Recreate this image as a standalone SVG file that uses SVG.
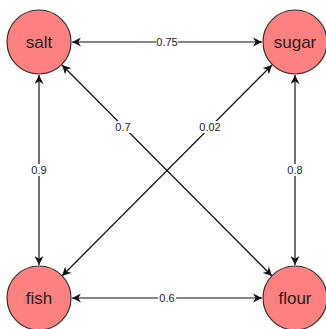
<svg xmlns="http://www.w3.org/2000/svg" width="326" height="329" viewBox="0 0 326 329">
<style>
.node circle{fill:#ff8080;stroke:#333;stroke-width:1.2}
.node text{font-family:Arial,"Liberation Sans",sans-serif;font-size:17px;fill:#222;text-anchor:middle;dominant-baseline:central}
.edges line{stroke:#111;stroke-width:1.2;marker-start:url(#a);marker-end:url(#a)}
.lbl rect{fill:#fff}
.lbl text{font-family:Arial,"Liberation Sans",sans-serif;font-size:11px;fill:#222;text-anchor:middle;dominant-baseline:central}
</style>
<defs>
<marker id="a" viewBox="0 0 10 10" refX="10" refY="5" markerWidth="9" markerHeight="9" markerUnits="userSpaceOnUse" orient="auto-start-reverse">
<path d="M0,0 L10,5 L0,10 L3,5 z" fill="#111"/>
</marker>
</defs>
<rect width="326" height="329" fill="#fff"/>
<g class="edges" id="edges">
<line x1="72" y1="42" x2="262" y2="42"/>
<line x1="72" y1="298" x2="262" y2="298"/>
<line x1="39" y1="75" x2="39" y2="265"/>
<line x1="295" y1="75" x2="295" y2="265"/>
<line x1="62" y1="65" x2="272" y2="276"/>
<line x1="272" y1="65" x2="62" y2="276"/>
</g>
<g class="lbl" id="labels">
<rect x="156" y="36" width="22" height="12"/><text x="167" y="42">0.75</text>
<rect x="158" y="292" width="18" height="12"/><text x="167" y="298">0.6</text>
<rect x="30" y="164" width="18" height="12"/><text x="39" y="170">0.9</text>
<rect x="286" y="164" width="18" height="12"/><text x="295" y="170">0.8</text>
<rect x="114" y="121" width="18" height="12"/><text x="123" y="127">0.7</text>
<rect x="199" y="121" width="22" height="12"/><text x="210" y="127">0.02</text>
</g>
<g class="node" id="salt"><circle cx="39" cy="42" r="32"/><text x="39" y="42">salt</text></g>
<g class="node" id="sugar"><circle cx="295" cy="42" r="32"/><text x="295" y="42">sugar</text></g>
<g class="node" id="fish"><circle cx="39" cy="298" r="32"/><text x="39" y="298">fish</text></g>
<g class="node" id="flour"><circle cx="295" cy="298" r="32"/><text x="295" y="298">flour</text></g>
</svg>
